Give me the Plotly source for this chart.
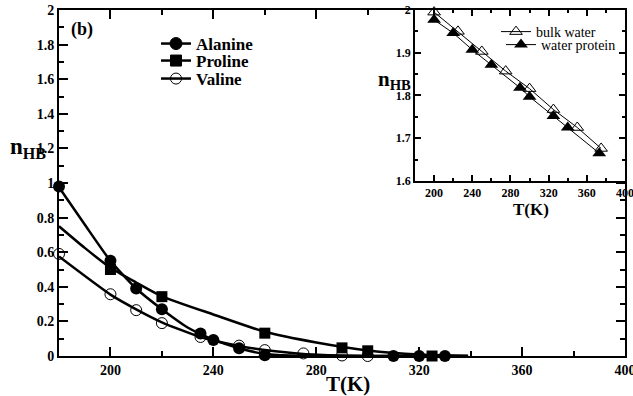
import plotly.graph_objects as go

# ---------------- main panel data ----------------
ala_T = [180, 200, 210, 220, 235, 240, 250, 260, 310, 320, 330]
ala_n = [0.98, 0.55, 0.39, 0.27, 0.13, 0.092, 0.045, 0.005, 0.0, 0.0, 0.0]
pro_T = [200, 220, 260, 290, 300, 325]
pro_n = [0.50, 0.343, 0.132, 0.047, 0.03, 0.0]
val_T = [180, 200, 210, 220, 235, 250, 260, 275, 290, 300]
val_n = [0.59, 0.357, 0.265, 0.19, 0.11, 0.06, 0.034, 0.015, 0.003, 0.0]

# fitted curves
ala_fit_T = [180, 190, 200, 210, 220, 230, 240, 250, 260, 270, 280, 300, 320, 339]
ala_fit_n = [0.975, 0.76, 0.55, 0.39, 0.27, 0.165, 0.095, 0.045, 0.012, 0.003, 0.0, 0.0, 0.0, 0.0]
pro_fit_T = [180, 190, 200, 210, 220, 240, 260, 280, 300, 320, 339]
pro_fit_n = [0.75, 0.625, 0.51, 0.425, 0.345, 0.24, 0.14, 0.078, 0.032, 0.008, 0.0]
val_fit_T = [180, 200, 210, 220, 235, 250, 260, 275, 290, 300, 320, 339]
val_fit_n = [0.575, 0.355, 0.27, 0.195, 0.11, 0.058, 0.035, 0.012, 0.003, 0.0, 0.0, 0.0]

# ---------------- inset data ----------------
bulk_T = [200, 225, 250, 275, 300, 325, 350, 375]
bulk_n = [1.995, 1.95, 1.903, 1.857, 1.816, 1.767, 1.725, 1.676]
prot_T = [200, 220, 240, 260, 290, 300, 325, 340, 373]
prot_n = [1.977, 1.946, 1.907, 1.872, 1.818, 1.797, 1.752, 1.725, 1.665]

SERIF = "Liberation Serif"
BOLD = dict(family=SERIF, weight="bold", color="black")

fig = go.Figure()

# curves
for T, n in [(ala_fit_T, ala_fit_n), (pro_fit_T, pro_fit_n), (val_fit_T, val_fit_n)]:
    fig.add_trace(go.Scatter(x=T, y=n, mode="lines", line=dict(color="black", width=2.5, shape="spline", smoothing=0.6),
                             showlegend=False, hoverinfo="skip"))

# markers
fig.add_trace(go.Scatter(x=ala_T, y=ala_n, mode="markers", cliponaxis=False, showlegend=False,
                         marker=dict(symbol="circle", size=12, color="black")))
fig.add_trace(go.Scatter(x=pro_T, y=pro_n, mode="markers", cliponaxis=False, showlegend=False,
                         marker=dict(symbol="square", size=11, color="black")))
fig.add_trace(go.Scatter(x=val_T, y=val_n, mode="markers", cliponaxis=False, showlegend=False,
                         marker=dict(symbol="circle-open", size=11, color="black", line=dict(width=1))))

# legend-only entries for main panel (one legend each, to get the tight spacing)
for name, sym, sz, lg in [("Alanine", "circle", 12, "legend"), ("Proline", "square", 11, "legend3"),
                          ("Valine", "circle-open", 11, "legend4")]:
    fig.add_trace(go.Scatter(x=[None], y=[None], mode="lines+markers", name=name,
                             line=dict(color="black", width=2.5),
                             marker=dict(symbol=sym, size=sz, color="black", line=dict(width=1, color="black")),
                             legend=lg))

# inset traces
fig.add_trace(go.Scatter(x=bulk_T, y=bulk_n, mode="lines+markers", name="bulk water", xaxis="x2", yaxis="y2",
                         line=dict(color="black", width=1),
                         marker=dict(symbol="triangle-up-open", size=11, color="black", line=dict(width=1)),
                         legend="legend2", cliponaxis=False))
fig.add_trace(go.Scatter(x=prot_T, y=prot_n, mode="lines+markers", name="water protein", xaxis="x2", yaxis="y2",
                         line=dict(color="black", width=1),
                         marker=dict(symbol="triangle-up", size=12, color="black"),
                         legend="legend5", cliponaxis=False))

axis_common = dict(showgrid=False, zeroline=False, showline=True, linecolor="black", mirror="ticks",
                   ticks="inside", tickcolor="black")

def px_x(p):
    return (p - 59) / 566.0

def px_y(p):
    return (356 - p) / 346.0

main_leg = dict(xanchor="left", yanchor="middle", bgcolor="rgba(0,0,0,0)",
                font=dict(**BOLD, size=17), itemwidth=30)
ins_leg = dict(xanchor="right", yanchor="middle", bgcolor="rgba(0,0,0,0)",
               font=dict(family=SERIF, size=14, color="black"), itemwidth=30)

fig.update_layout(
    width=633, height=396,
    margin=dict(l=59, r=8, t=10, b=40, autoexpand=False),
    paper_bgcolor="white", plot_bgcolor="white",
    xaxis=dict(**axis_common, range=[180, 400], domain=[0, 1], tick0=200, dtick=40, ticklen=9, linewidth=2,
               tickwidth=2, tickfont=dict(**BOLD, size=14), ticklabeloverflow="allow",
               minor=dict(ticks="inside", dtick=20, ticklen=5, tickcolor="black", tickwidth=2)),
    yaxis=dict(**axis_common, range=[0, 2], domain=[0, 1], dtick=0.2, ticklen=9, linewidth=2, tickwidth=2,
               tickfont=dict(**BOLD, size=14),
               minor=dict(ticks="inside", dtick=0.1, ticklen=5, tickcolor="black", tickwidth=2)),
    xaxis2=dict(**axis_common, anchor="y2", range=[180, 400], domain=[0.629, 1.0], tick0=200, dtick=40,
                ticklen=6, linewidth=1.5, tickwidth=1.5, tickfont=dict(**BOLD, size=12),
                ticklabeloverflow="allow",
                minor=dict(ticks="inside", dtick=20, ticklen=3, tickcolor="black", tickwidth=1.5)),
    yaxis2=dict(**axis_common, anchor="x2", range=[1.6, 2.0], domain=[0.506, 1.0], dtick=0.1,
                ticklen=6, linewidth=1.5, tickwidth=1.5, tickfont=dict(**BOLD, size=12),
                minor=dict(ticks="inside", dtick=0.05, ticklen=3, tickcolor="black", tickwidth=1.5)),
    legend=dict(**main_leg, x=px_x(156), y=px_y(44)),
    legend3=dict(**main_leg, x=px_x(156), y=px_y(61)),
    legend4=dict(**main_leg, x=px_x(156), y=px_y(79)),
    legend2=dict(**ins_leg, x=px_x(601), y=px_y(32)),
    legend5=dict(**ins_leg, x=px_x(621), y=px_y(45)),
    annotations=[
        dict(text="(b)", x=px_x(69), y=px_y(30), xref="paper", yref="paper", xanchor="left", yanchor="middle",
             showarrow=False, font=dict(**BOLD, size=18)),
        dict(text="T(K)", x=px_x(348), y=px_y(384), xref="paper", yref="paper", xanchor="center", yanchor="middle",
             showarrow=False, font=dict(**BOLD, size=21)),
        dict(text="n<sub>HB</sub>", x=px_x(28), y=px_y(148), xref="paper", yref="paper", xanchor="center",
             yanchor="middle", showarrow=False, font=dict(**BOLD, size=23)),
        dict(text="T(K)", x=px_x(531), y=px_y(209), xref="paper", yref="paper", xanchor="center", yanchor="middle",
             showarrow=False, font=dict(**BOLD, size=17)),
        dict(text="n<sub>HB</sub>", x=px_x(394), y=px_y(80), xref="paper", yref="paper", xanchor="center",
             yanchor="middle", showarrow=False, font=dict(**BOLD, size=21)),
    ],
)

fig.write_html("out.html")
